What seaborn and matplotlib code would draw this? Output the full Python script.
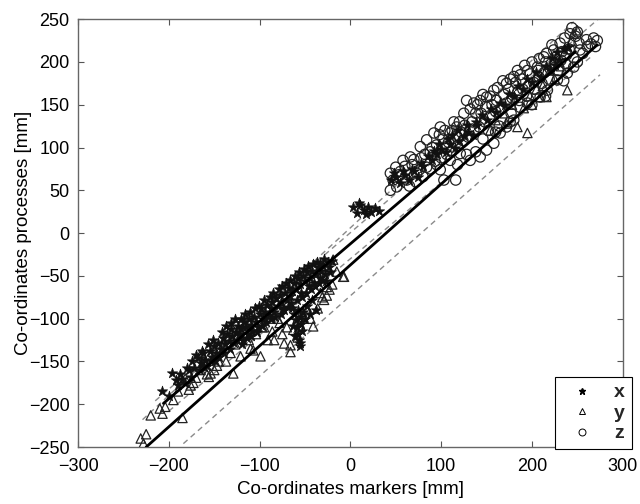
import matplotlib
matplotlib.use("Agg")
import matplotlib.pyplot as plt
from matplotlib.lines import Line2D
import seaborn as sns
import pandas as pd

# ---------------- data ----------------
# series "x" (asterisks)
x_mark = [-207, -196, -190, -185, -178, -175, -172, -168, -165, -162, -160, -158, -155, -152,
          -150, -148, -146, -143, -140, -138, -136, -134, -132, -130, -128, -126, -124, -122,
          -120, -118, -117, -115, -113, -112, -110, -108, -106, -104, -102, -100, -98, -96,
          -94, -92, -90, -88, -86, -84, -82, -80, -78, -76, -74, -72, -70, -68, -66, -64,
          -62, -60, -58, -56, -54, -52, -50, -48, -46, -44, -42, -40, -38, -36, -34, -32,
          -30, -28, -24, -20,
          -200, -192, -188, -182, -180, -176, -170, -166, -164, -161, -157, -154, -151, -149,
          -145, -142, -139, -137, -133, -131, -127, -125, -121, -119, -116, -114, -111, -109,
          -105, -103, -101, -97, -95, -93, -89, -87, -85, -83, -79, -77, -75, -73, -71, -69,
          -67, -65, -61, -59, -57, -53, -51, -49, -47, -43, -41, -39, -37, -35, -33, -31,
          -29, -27, -25, -22,
          -64, -62, -60, -59, -58, -57, -56, -55, -54, -53, -61, -63, -58, -55, -52,
          -48, -45, -42, -38, -50,
          3, 7, 11, 15, 19, 23, 27, 31, 9, 17,
          45, 50, 55, 60, 65, 70, 75, 80, 90, 95, 100, 105, 110, 115, 120, 125, 130, 135,
          140, 150, 160, 170, 180, 190, 200, 210, 220, 225, 230,
          48, 58, 68, 78, 85, 92, 98, 108, 112, 118, 128, 138, 145, 155, 165, 175, 185, 195,
          205, 215, 222, 228, 235, 240]
x_proc = [-185, -163, -178, -170, -160, -150, -158, -146, -152, -140, -148, -155, -138, -145,
          -132, -140, -128, -135, -122, -130, -118, -126, -112, -120, -128, -115, -108, -118,
          -112, -125, -104, -110, -118, -100, -107, -114, -98, -104, -110, -95, -88, -100,
          -92, -84, -96, -88, -80, -92, -76, -85, -72, -80, -88, -70, -78, -64, -74, -68,
          -58, -65, -52, -60, -70, -50, -56, -46, -62, -52, -44, -58, -48, -40, -52, -44,
          -38, -48, -40, -33,
          -190, -172, -165, -175, -158, -168, -142, -160, -138, -156, -130, -150, -125, -150,
          -145, -115, -140, -108, -135, -105, -100, -125, -100, -130, -95, -122, -92, -120,
          -88, -116, -85, -108, -78, -104, -75, -100, -70, -98, -65, -95, -62, -90, -58, -86,
          -55, -82, -50, -78, -45, -75, -42, -70, -38, -65, -36, -62, -34, -58, -36, -55,
          -30, -56, -34, -45,
          -88, -95, -102, -110, -118, -125, -132, -98, -106, -114, -120, -108, -90, -128, -92,
          -85, -95, -78, -90, -100,
          30, 24, 33, 27, 31, 25, 29, 26, 35, 22,
          62, 66, 58, 68, 62, 72, 66, 78, 86, 92, 98, 95, 104, 100, 108, 114, 118, 115,
          126, 132, 142, 150, 160, 168, 176, 182, 190, 196, 202,
          70, 72, 75, 82, 90, 96, 104, 110, 115, 120, 126, 130, 138, 145, 152, 162, 172, 180,
          188, 195, 205, 212, 215, 218]

# series "y" (triangles)
y_mark = [-231, -228, -220, -207, -204, -185, -178, -173, -170, -154, -150, -160, -156, -147,
          -129, -132, -121, -116, -118, -107, -99, -97, -91, -84, -80, -73, -66, -66, -63,
          -55, -41, -29, -26, -23, -19, -8, -31, -26, -7,
          -225, -210, -195, -190, -182, -176, -165, -162, -158, -145, -140, -137, -127, -124,
          -119, -112, -110, -104, -95, -88, -86, -78, -75, -70, -60, -58, -52, -48, -44, -36,
          -33, -20, -15,
          154, 184, 191, 200, 209, 216, 220, 239, 246, 250, 195, 172, 230,
          160, 170, 178, 205, 225, 232, 240, 244, 212, 198]
y_proc = [-240, -246, -213, -211, -203, -216, -183, -175, -169, -164, -160, -150, -168, -155,
          -164, -140, -144, -105, -112, -137, -144, -110, -125, -125, -100, -129, -139, -131,
          -113, -109, -109, -78, -73, -66, -31, -51, -75, -63, -51,
          -235, -205, -195, -185, -170, -178, -160, -150, -165, -150, -130, -150, -130, -120,
          -112, -125, -135, -118, -110, -100, -115, -105, -118, -110, -95, -122, -98, -90,
          -100, -88, -70, -60, -45,
          120, 124, 146, 150, 159, 159, 190, 167, 233, 237, 117, 128, 200,
          132, 140, 150, 168, 180, 195, 215, 225, 172, 160]

# series "z" (circles)
z_mark = [44, 50, 58, 66, 44, 51, 62, 73, 84, 77, 84, 92, 99, 106, 110, 117, 128, 136, 143,
          150, 158, 172, 180, 187, 195, 206, 213, 224, 231, 242, 250,
          55, 68, 78, 88, 95, 102, 112, 120, 125, 132, 140, 146, 154, 162, 168, 176, 184,
          192, 200, 208, 216, 222, 236, 244, 248,
          65, 72, 80, 88, 95, 100, 106, 112, 118, 124, 130, 136, 142, 148, 154, 160, 166,
          172, 178, 184, 190, 196, 202, 208, 214, 220, 226, 232, 238,
          103, 116, 99, 110, 121, 132, 143, 150, 158, 165, 172, 180, 187, 195, 209, 217,
          228, 239, 246, 253, 261, 272, 265,
          47, 53, 60, 70, 76, 82, 90, 93, 98, 104, 108, 114, 118, 122, 126, 134, 138, 144,
          149, 152, 156, 161, 164, 169, 174, 177, 182, 186, 189, 194, 198, 203, 207, 211,
          215, 219, 225, 229, 233, 237, 241, 246, 252, 256, 260, 268, 270, 138, 128, 118,
          146, 160, 176, 200, 215, 235, 250]
z_proc = [70, 77, 85, 89, 50, 54, 62, 70, 77, 101, 109, 117, 124, 101, 117, 124, 155, 152,
          155, 159, 167, 175, 183, 185, 190, 194, 206, 214, 222, 233, 235,
          72, 80, 88, 95, 103, 110, 120, 130, 140, 145, 150, 162, 160, 170, 178, 180, 190,
          196, 200, 204, 210, 220, 228, 240, 230,
          55, 60, 66, 75, 80, 88, 92, 96, 102, 108, 112, 120, 124, 130, 136, 142, 146,
          152, 158, 164, 168, 172, 176, 182, 188, 192, 198, 202, 208,
          62, 62, 74, 85, 93, 85, 89, 97, 105, 117, 124, 132, 147, 152, 159, 167,
          179, 187, 194, 214, 218, 225, 221,
          62, 68, 78, 86, 74, 92, 100, 84, 115, 120, 106, 130, 112, 118, 126, 130, 140, 140,
          148, 120, 150, 155, 125, 162, 168, 140, 176, 155, 180, 160, 186, 168, 190, 175,
          200, 180, 205, 190, 212, 198, 215, 205, 222, 210, 226, 228, 218, 95, 92, 80,
          110, 118, 130, 150, 160, 178, 200]

# regression lines (end points) and dashed bands (end points)
solid_x0 = [-206, -225]
solid_x1 = [248, 272]
solid_y0 = [-199, -250]
solid_y1 = [212, 220]
dash_x0 = [-229, -215, -200, -184]
dash_x1 = [246, 273, 265, 275]
dash_y0 = [-218, -196, -208, -246]
dash_y1 = [247, 250, 206, 185]

legend_labels = ["x", "y", "z"]
x_ticks = [-300, -200, -100, 0, 100, 200, 300]
y_ticks = [-250, -200, -150, -100, -50, 0, 50, 100, 150, 200, 250]

# ---------------- plotting ----------------
sns.set_style("ticks")
plt.rcParams["font.family"] = ["Liberation Sans", "DejaVu Sans"]

fig = plt.figure(figsize=(6.4, 5.04), dpi=100)
ax = fig.add_axes([0.122, 0.113, 0.851, 0.849])

for i in range(len(dash_x0)):
    d = pd.DataFrame({"a": [dash_x0[i], dash_x1[i]], "b": [dash_y0[i], dash_y1[i]]})
    sns.lineplot(data=d, x="a", y="b", ax=ax, color="#8a8a8a", lw=1.0,
                 linestyle=(0, (4, 3)), estimator=None, sort=False, zorder=1)

df_x = pd.DataFrame({"m": x_mark, "p": x_proc})
df_y = pd.DataFrame({"m": y_mark, "p": y_proc})
df_z = pd.DataFrame({"m": z_mark, "p": z_proc})

sns.scatterplot(data=df_z, x="m", y="p", ax=ax, marker="o", s=55, zorder=2)
ax.collections[-1].set_facecolor("none")
ax.collections[-1].set_edgecolor("#222222")
ax.collections[-1].set_linewidth(0.9)

sns.scatterplot(data=df_y, x="m", y="p", ax=ax, marker="^", s=45, zorder=2)
ax.collections[-1].set_facecolor("none")
ax.collections[-1].set_edgecolor("#222222")
ax.collections[-1].set_linewidth(0.9)

sns.scatterplot(data=df_x, x="m", y="p", ax=ax, marker="*", s=60, color="#111111",
                edgecolor="#111111", linewidth=0.5, zorder=3)

for i in range(len(solid_x0)):
    d = pd.DataFrame({"a": [solid_x0[i], solid_x1[i]], "b": [solid_y0[i], solid_y1[i]]})
    sns.lineplot(data=d, x="a", y="b", ax=ax, color="black", lw=2.0,
                 estimator=None, sort=False, zorder=4)

ax.set_xlim(-300, 300)
ax.set_ylim(-250, 250)
ax.set_xticks(x_ticks)
ax.set_yticks(y_ticks)
ax.tick_params(direction="in", top=True, right=True, length=4, width=0.8,
               labelsize=13, labelcolor="black", color="#555555")
ax.tick_params(axis="x", pad=8)
ax.tick_params(axis="y", pad=6)
for sp in ax.spines.values():
    sp.set_color("#666666")
    sp.set_linewidth(1.0)
ax.set_xlabel("Co-ordinates markers [mm]", fontsize=13.5, labelpad=4, color="black")
ax.set_ylabel("Co-ordinates processes [mm]", fontsize=13.5, labelpad=-2, color="black")

handles = [
    Line2D([], [], marker="*", color="black", linestyle="none", markersize=5),
    Line2D([], [], marker="^", markerfacecolor="none", markeredgecolor="black",
           linestyle="none", markersize=5, markeredgewidth=0.7),
    Line2D([], [], marker="o", markerfacecolor="none", markeredgecolor="black",
           linestyle="none", markersize=5, markeredgewidth=0.7),
]
leg = ax.legend(handles, legend_labels, loc="lower right",
                bbox_to_anchor=(1.0165, -0.005), borderaxespad=0, frameon=True,
                fancybox=False, edgecolor="black", framealpha=1, handlelength=2.1,
                handletextpad=0.6, borderpad=0.35, labelspacing=0.15,
                prop={"weight": "bold", "size": 14})
leg.get_frame().set_linewidth(0.8)

fig.savefig("out.png", dpi=100)
